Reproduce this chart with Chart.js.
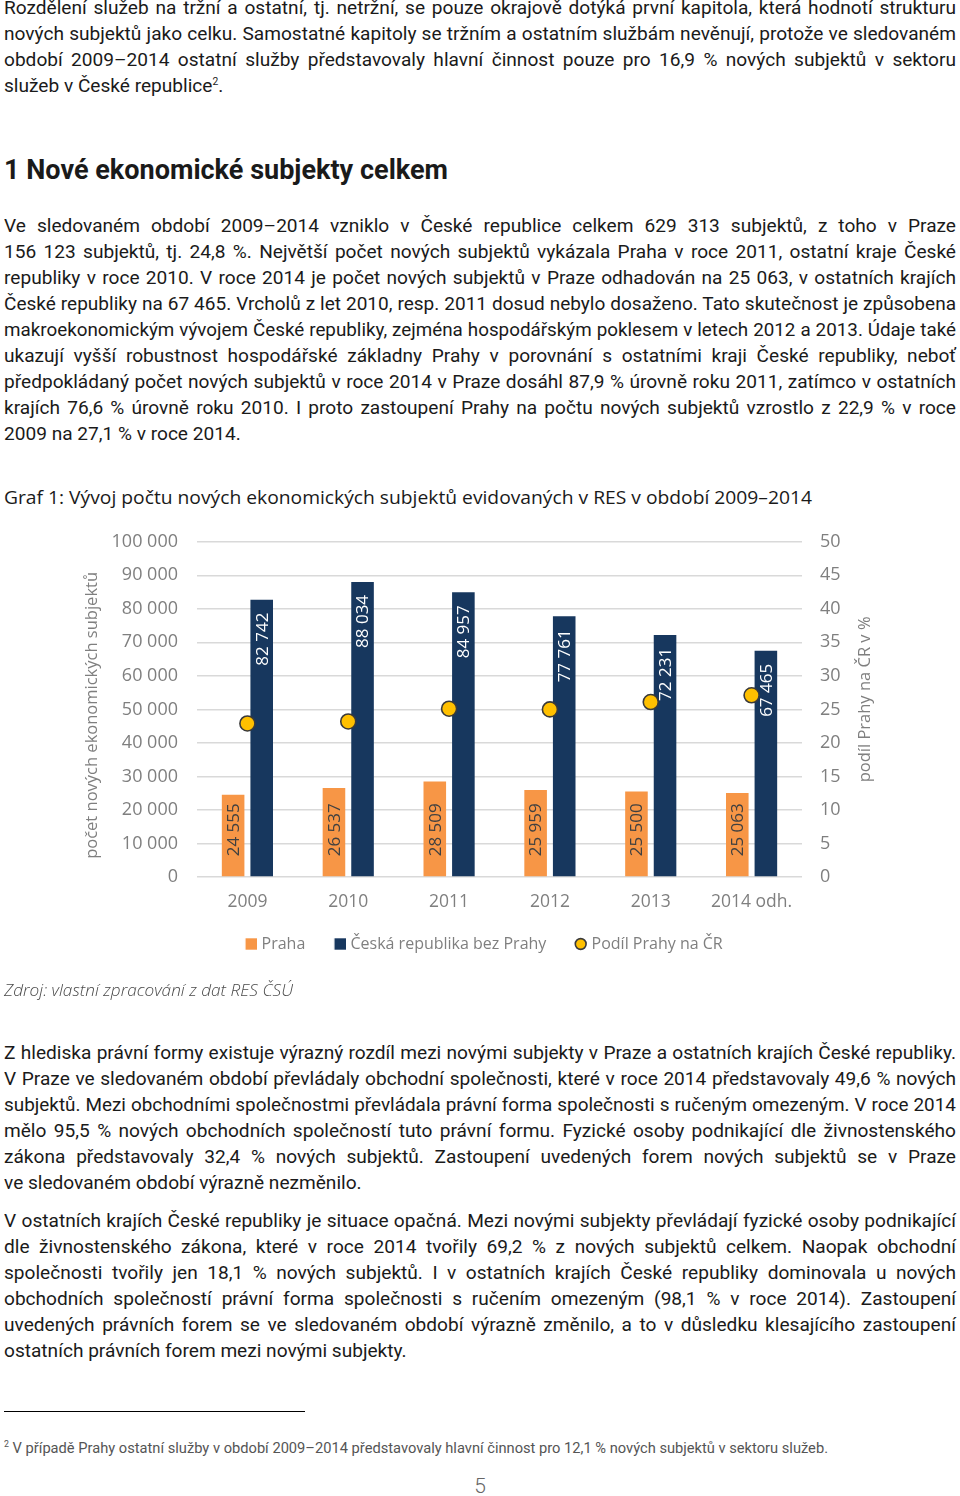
<!DOCTYPE html>
<html lang="cs">
<head>
<meta charset="utf-8">
<script src="https://cdn.jsdelivr.net/npm/chart.js@4.4.1/dist/chart.umd.min.js"></script>
<style>
  html, body { margin: 0; padding: 0; background: #fff; }
  body { width: 960px; height: 1496px; position: relative; overflow: hidden; color: #1a1a1a; }
  .ln { position: absolute; left: 4px; width: 952px; height: 26px; line-height: 26px;
        font-family: Roboto, sans-serif; font-size: 18.5px; transform-origin: 0 0;
        white-space: nowrap; text-align: justify; text-align-last: justify; }
  .ln.last { text-align: left; text-align-last: left; }
  sup { font-size: 10px; line-height: 0; vertical-align: 7px; }
  .fit { position: absolute; left: 4px; white-space: nowrap; transform-origin: 0 0; }
  #h1 { top: 152px; font-family: Roboto, sans-serif; font-weight: bold; font-size: 28px; line-height: 36px; }
  #gt { top: 484px; font-family: "Open Sans", sans-serif; font-size: 19px; line-height: 26px; }
  #src { top: 977px; font-family: "Open Sans", sans-serif; font-style: italic;
         font-size: 17px; line-height: 26px; color: #4a4a4a; font-weight: 300; }
  #fl { position: absolute; left: 4px; top: 1411px; width: 301px; height: 1px; background: #000; }
  #fn { top: 1438px; font-family: Roboto, sans-serif; font-size: 15px; line-height: 20px; color: #555; }
  #fn sup { font-size: 9px; vertical-align: 6px; }
  #pg { position: absolute; left: 0; width: 960px; top: 1474px; text-align: center;
        font-family: Roboto, sans-serif; font-weight: 300; font-size: 21px; color: #666; }
  #wrap { position: absolute; left: 0; top: 512px; width: 960px; height: 470px; }
</style>
</head>
<body>
<div class="ln" style="top:-5px">Rozdělení služeb na tržní a ostatní, tj. netržní, se pouze okrajově dotýká první kapitola, která hodnotí strukturu</div>
<div class="ln" style="top:21px">nových subjektů jako celku. Samostatné kapitoly se tržním a ostatním službám nevěnují, protože ve sledovaném</div>
<div class="ln" style="top:47px">období 2009–2014 ostatní služby představovaly hlavní činnost pouze pro 16,9 % nových subjektů v sektoru</div>
<div class="ln last" style="top:73px">služeb v České republice<sup>2</sup>.</div>

<div id="h1" class="fit" data-w="444">1 Nové ekonomické subjekty celkem</div>

<div class="ln" style="top:213px">Ve sledovaném období 2009–2014 vzniklo v České republice celkem 629 313 subjektů, z toho v Praze</div>
<div class="ln" style="top:239px">156 123 subjektů, tj. 24,8 %. Největší počet nových subjektů vykázala Praha v roce 2011, ostatní kraje České</div>
<div class="ln" style="top:265px">republiky v roce 2010. V roce 2014 je počet nových subjektů v Praze odhadován na 25 063, v ostatních krajích</div>
<div class="ln" style="top:291px">České republiky na 67 465. Vrcholů z let 2010, resp. 2011 dosud nebylo dosaženo. Tato skutečnost je způsobena</div>
<div class="ln" style="top:317px">makroekonomickým vývojem České republiky, zejména hospodářským poklesem v letech 2012 a 2013. Údaje také</div>
<div class="ln" style="top:343px">ukazují vyšší robustnost hospodářské základny Prahy v porovnání s ostatními kraji České republiky, neboť</div>
<div class="ln" style="top:369px">předpokládaný počet nových subjektů v roce 2014 v Praze dosáhl 87,9 % úrovně roku 2011, zatímco v ostatních</div>
<div class="ln" style="top:395px">krajích 76,6 % úrovně roku 2010. I proto zastoupení Prahy na počtu nových subjektů vzrostlo z 22,9 % v roce</div>
<div class="ln last" style="top:421px">2009 na 27,1 % v roce 2014.</div>

<div id="gt" class="fit" data-w="808">Graf 1: Vývoj počtu nových ekonomických subjektů evidovaných v RES v období 2009–2014</div>

<div id="wrap"><canvas id="c"></canvas></div>

<div id="src" class="fit" data-w="289">Zdroj: vlastní zpracování z dat RES ČSÚ</div>

<div class="ln" style="top:1040px">Z hlediska právní formy existuje výrazný rozdíl mezi novými subjekty v Praze a ostatních krajích České republiky.</div>
<div class="ln" style="top:1066px">V Praze ve sledovaném období převládaly obchodní společnosti, které v roce 2014 představovaly 49,6 % nových</div>
<div class="ln" style="top:1092px">subjektů. Mezi obchodními společnostmi převládala právní forma společnosti s ručeným omezeným. V roce 2014</div>
<div class="ln" style="top:1118px">mělo 95,5 % nových obchodních společností tuto právní formu. Fyzické osoby podnikající dle živnostenského</div>
<div class="ln" style="top:1144px">zákona představovaly 32,4 % nových subjektů. Zastoupení uvedených forem nových subjektů se v Praze</div>
<div class="ln last" style="top:1170px">ve sledovaném období výrazně nezměnilo.</div>

<div class="ln" style="top:1208px">V ostatních krajích České republiky je situace opačná. Mezi novými subjekty převládají fyzické osoby podnikající</div>
<div class="ln" style="top:1234px">dle živnostenského zákona, které v roce 2014 tvořily 69,2 % z nových subjektů celkem. Naopak obchodní</div>
<div class="ln" style="top:1260px">společnosti tvořily jen 18,1 % nových subjektů. I v ostatních krajích České republiky dominovala u nových</div>
<div class="ln" style="top:1286px">obchodních společností právní forma společnosti s ručením omezeným (98,1 % v roce 2014). Zastoupení</div>
<div class="ln" style="top:1312px">uvedených právních forem se ve sledovaném období výrazně změnilo, a to v důsledku klesajícího zastoupení</div>
<div class="ln last" style="top:1338px">ostatních právních forem mezi novými subjekty.</div>

<div id="fl"></div>
<div id="fn" class="fit" data-w="824"><sup>2</sup> V případě Prahy ostatní služby v období 2009–2014 představovaly hlavní činnost pro 12,1 % nových subjektů v sektoru služeb.</div>
<div id="pg">5</div>

<script>
// ---- text fitting (condensed look via horizontal scaling) ----
(function () {
  const m = document.createElement('canvas').getContext('2d');
  m.font = '18.5px Roboto';
  const refs = [['ve sledovaném období výrazně nezměnilo.', 354],
                ['2009 na 27,1 % v roce 2014.', 240],
                ['ostatních právních forem mezi novými subjekty.', 401]];
  let s = 0;
  refs.forEach(([t, w]) => { s += w / m.measureText(t).width; });
  s /= refs.length;
  document.querySelectorAll('.ln').forEach(el => {
    const w = m.measureText(el.textContent).width;
    let si = s;
    if (!el.classList.contains('last') && w * si > 948) si = 948 / w;
    el.style.width = (952 / si) + 'px';
    el.style.transform = 'scaleX(' + si + ')';
  });
  document.querySelectorAll('.fit').forEach(el => {
    const w = el.getBoundingClientRect().width;
    const target = parseFloat(el.dataset.w);
    el.style.transform = 'scaleX(' + (target / w) + ')';
  });
})();

// ---- data ----
const categories = ['2009', '2010', '2011', '2012', '2013', '2014 odh.'];
const praha = [24555, 26537, 28509, 25959, 25500, 25063];
const crBezPrahy = [82742, 88034, 84957, 77761, 72231, 67465];
const podilPrahy = [22.9, 23.2, 25.1, 25.0, 26.1, 27.1];
const leftTicks = [0, 10000, 20000, 30000, 40000, 50000, 60000, 70000, 80000, 90000, 100000];
const rightTicks = [0, 5, 10, 15, 20, 25, 30, 35, 40, 45, 50];
const leftTitle = 'počet nových ekonomických subjektů';
const rightTitle = 'podíl Prahy na ČR v %';

const FONT = '"Open Sans", "Lato", sans-serif';
const GRAY = '#7f7f7f';
const ORANGE = '#F79646', NAVY = '#17375E', GOLD = '#FFC000', EDGE = '#3a3a3a';
const fmt = v => String(v).replace(/\B(?=(\d{3})+(?!\d))/g, ' ');

// legend markers: image wider than the legend box so the marker sits close to its text
const LW = 21.2, LD = 3.5;
function marker(kind, color) {
  const c = document.createElement('canvas');
  c.width = Math.round(LW + 2 * LD); c.height = 14;
  const g = c.getContext('2d');
  const r = c.width;
  if (kind === 'rect') {
    g.fillStyle = color; g.fillRect(r - 11.4, 1.3, 11.4, 11.4);
  } else {
    g.beginPath(); g.arc(r - 6.3, 7, 5.4, 0, Math.PI * 2);
    g.fillStyle = GOLD; g.fill();
    g.lineWidth = 1.6; g.strokeStyle = EDGE; g.stroke();
  }
  return c;
}
const legendMarkers = [marker('rect', ORANGE), marker('rect', NAVY), marker('dot')];

const extras = {
  id: 'extras',
  afterDatasetsDraw(chart) {
    const ctx = chart.ctx;
    ctx.save();
    ctx.font = '17px ' + FONT;
    ctx.textBaseline = 'middle';
    [0, 1].forEach(di => {
      const meta = chart.getDatasetMeta(di);
      meta.data.forEach((el, i) => {
        const v = chart.data.datasets[di].data[i];
        ctx.save();
        if (di === 0) {
          ctx.translate(el.x, el.base - 20);
          ctx.rotate(-Math.PI / 2);
          ctx.textAlign = 'left';
          ctx.fillStyle = '#404040';
        } else {
          ctx.translate(el.x, el.y + 13);
          ctx.rotate(-Math.PI / 2);
          ctx.textAlign = 'right';
          ctx.fillStyle = '#ffffff';
        }
        ctx.fillText(fmt(v), 0, 1);
        ctx.restore();
      });
    });
    ctx.restore();
  },
  afterDraw(chart) {
    const ctx = chart.ctx, a = chart.chartArea;
    const mid = (a.top + a.bottom) / 2;
    [[leftTitle, chart.scales.y.left + 12, mid + 6], [rightTitle, chart.scales.y1.left + 63, mid - 10]]
      .forEach(([t, x, y]) => {
        ctx.save();
        ctx.font = '16.5px ' + FONT;
        ctx.fillStyle = GRAY;
        ctx.textAlign = 'center';
        ctx.textBaseline = 'middle';
        ctx.translate(x, y);
        ctx.rotate(-Math.PI / 2);
        ctx.fillText(t, 0, 0);
        ctx.restore();
      });
  }
};

new Chart(document.getElementById('c'), {
  type: 'bar',
  data: {
    labels: categories,
    datasets: [
      { label: 'Praha', data: praha, backgroundColor: ORANGE, yAxisID: 'y', order: 2,
        categoryPercentage: 0.567, barPercentage: 0.79 },
      { label: 'Česká republika bez Prahy', data: crBezPrahy, backgroundColor: NAVY, yAxisID: 'y', order: 2,
        categoryPercentage: 0.567, barPercentage: 0.79 },
      { type: 'line', label: 'Podíl Prahy na ČR', data: podilPrahy, yAxisID: 'y1', order: 0,
        showLine: false, pointRadius: 7.5, pointHoverRadius: 7.5, pointBackgroundColor: GOLD,
        pointBorderColor: EDGE, pointBorderWidth: 1.6, backgroundColor: GOLD, borderColor: EDGE }
    ]
  },
  options: {
    responsive: true,
    maintainAspectRatio: false,
    animation: false,
    layout: { padding: { left: 80, right: 85, top: 0, bottom: 20 } },
    plugins: {
      tooltip: { enabled: false },
      legend: {
        position: 'bottom',
        labels: {
          usePointStyle: true,
          pointStyleWidth: LW,
          boxWidth: 12, boxHeight: 12,
          padding: 16,
          color: GRAY,
          font: { family: FONT, size: 16 },
          sort: (a, b) => a.datasetIndex - b.datasetIndex,
          generateLabels(chart) {
            const items = Chart.defaults.plugins.legend.labels.generateLabels(chart);
            items.forEach(it => { it.pointStyle = legendMarkers[it.datasetIndex]; });
            return items;
          }
        }
      }
    },
    scales: {
      x: {
        grid: { display: false },
        border: { display: false },
        ticks: { color: GRAY, font: { family: FONT, size: 17.5 }, padding: 7 }
      },
      y: {
        position: 'left',
        min: 0, max: 100000,
        afterBuildTicks: s => { s.ticks = leftTicks.map(v => ({ value: v })); },
        afterFit: s => { s.width = 117; },
        grid: { color: '#d9d9d9', lineWidth: 1.5, drawTicks: false },
        border: { display: false },
        ticks: { color: GRAY, font: { family: FONT, size: 18 }, padding: 19, callback: v => fmt(v) }
      },
      y1: {
        position: 'right',
        min: 0, max: 50,
        afterBuildTicks: s => { s.ticks = rightTicks.map(v => ({ value: v })); },
        afterFit: s => { s.width = 73; },
        grid: { display: false },
        border: { display: false },
        ticks: { color: GRAY, font: { family: FONT, size: 18 }, padding: 10 }
      }
    }
  },
  plugins: [extras]
});
</script>
</body>
</html>
